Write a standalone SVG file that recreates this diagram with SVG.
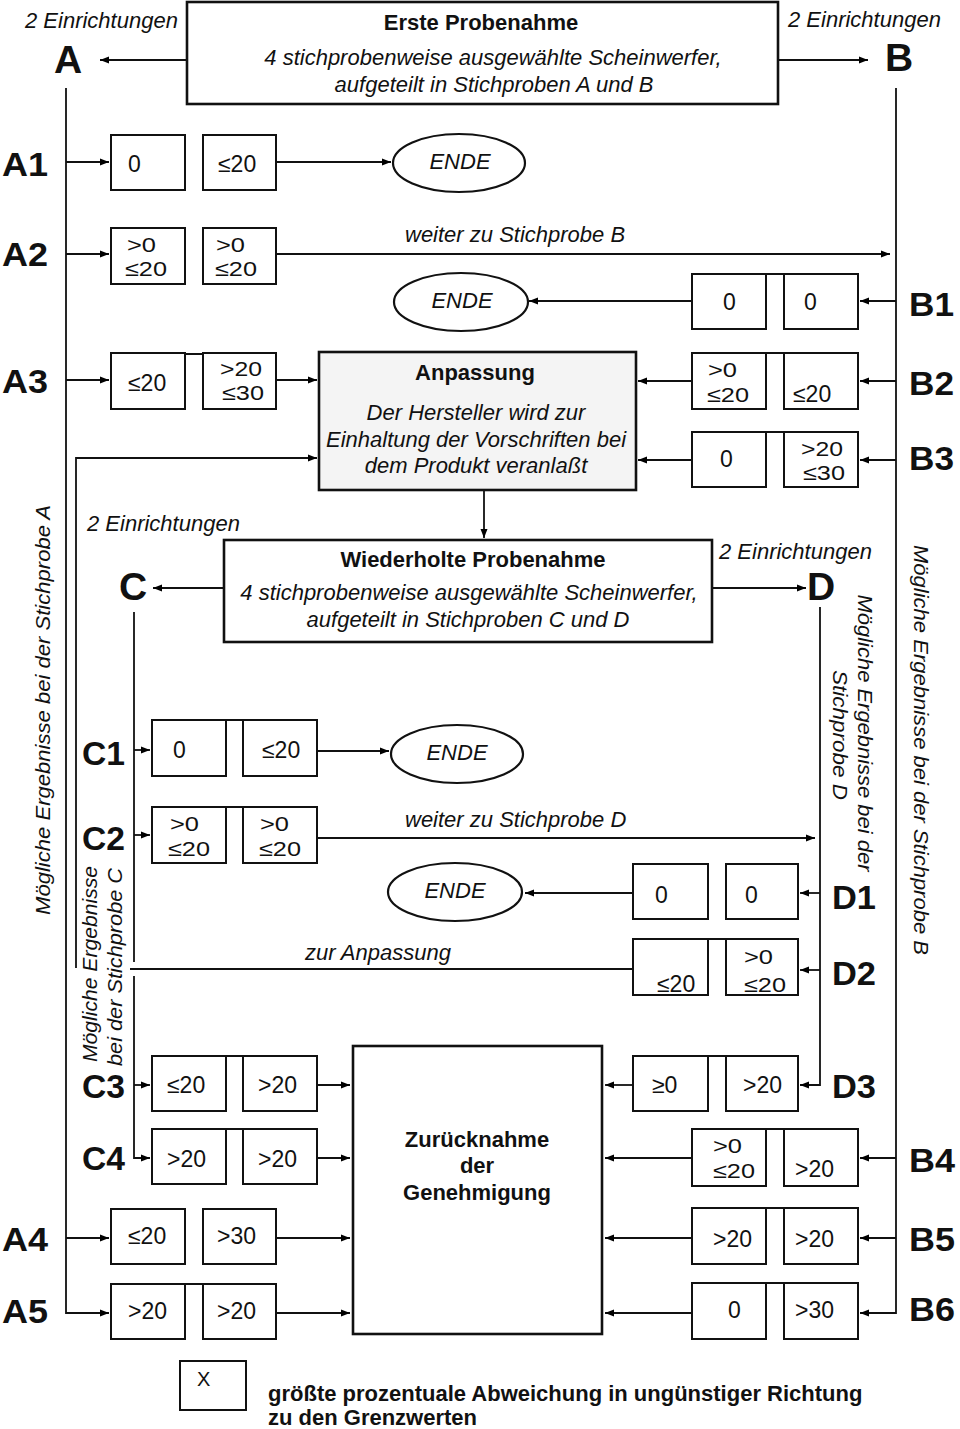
<svg xmlns="http://www.w3.org/2000/svg" width="960" height="1429" viewBox="0 0 960 1429">
<defs>
<marker id="ah" markerUnits="userSpaceOnUse" markerWidth="10" markerHeight="8" refX="9" refY="4" orient="auto">
<path d="M0,0.5 L9,4 L0,7.5 z" fill="#000"/>
</marker>
<style>
text{font-family:"Liberation Sans",Arial,sans-serif;fill:#111}
.box{fill:#fff;stroke:#111;stroke-width:2}
.big{fill:#fff;stroke:#111;stroke-width:2.6}
.v{font-size:23px}
.v2{font-size:21px}
.it{font-style:italic;font-size:22px}
.t{font-weight:bold;font-size:22px}
.lab{font-weight:bold;font-size:33px}
.hd{font-weight:bold;font-size:39px}
.rot{font-style:italic;font-size:20px}
.c{text-anchor:middle}
.ln{fill:none;stroke:#111;stroke-width:1.8}
.ar{fill:none;stroke:#111;stroke-width:1.8;marker-end:url(#ah)}
.j{stroke:#111;stroke-width:2}
.ell{fill:#fff;stroke:#111;stroke-width:2.2}
</style>
</defs>
<rect width="960" height="1429" fill="#fff"/>

<g id="connectors">
<path class="ar" d="M187 60 H100"/>
<path class="ar" d="M778 60 H868"/>
<path class="ar" d="M66 88 V1313 H109"/>
<path class="ar" d="M66 162 H109"/>
<path class="ar" d="M66 254 H109"/>
<path class="ar" d="M66 380 H109"/>
<path class="ar" d="M66 1238 H109"/>
<path class="ar" d="M896 88 V1313 H860"/>
<path class="ar" d="M896 301 H860"/>
<path class="ar" d="M896 381 H860"/>
<path class="ar" d="M896 460 H860"/>
<path class="ar" d="M896 1158 H860"/>
<path class="ar" d="M896 1238 H860"/>
<path class="ar" d="M276 162 H391"/>
<path class="ar" d="M276 254 H890"/>
<path class="ar" d="M692 301 H529"/>
<path class="ar" d="M276 380 H317"/>
<path class="ar" d="M692 381 H638"/>
<path class="ar" d="M692 460 H638"/>
<path class="ar" d="M76 968 V458 H317"/>
<path class="ln" d="M633 969 H130"/>
<path class="ar" d="M484 490 V538"/>
<path class="ar" d="M224 588 H153"/>
<path class="ar" d="M712 588 H806"/>
<path class="ln" d="M134 612 V962"/>
<path class="ar" d="M134 976 V1158 H150"/>
<path class="ar" d="M134 750 H150"/>
<path class="ar" d="M134 835 H150"/>
<path class="ar" d="M134 1085 H150"/>
<path class="ar" d="M820 607 V1085 H800"/>
<path class="ar" d="M820 893 H800"/>
<path class="ar" d="M820 970 H800"/>
<path class="ar" d="M317 751 H389"/>
<path class="ar" d="M317 838 H815"/>
<path class="ar" d="M633 893 H525"/>
<path class="ar" d="M317 1085 H350"/>
<path class="ar" d="M317 1158 H350"/>
<path class="ar" d="M276 1238 H350"/>
<path class="ar" d="M276 1313 H350"/>
<path class="ar" d="M633 1085 H605"/>
<path class="ar" d="M692 1158 H605"/>
<path class="ar" d="M692 1238 H605"/>
<path class="ar" d="M692 1313 H605"/>
</g>

<g id="erste-probenahme">
<rect class="big" x="187" y="2" width="591" height="102"/>
<text class="t c" x="481" y="30">Erste Probenahme</text>
<text class="it c" x="493" y="65">4 stichprobenweise ausgewählte Scheinwerfer,</text>
<text class="it c" x="494" y="92">aufgeteilt in Stichproben A und B</text>
</g>
<g id="label-A">
<text class="it" x="25" y="28">2 Einrichtungen</text>
<text class="hd" x="54" y="73">A</text>
</g>
<g id="label-B">
<text class="it" x="788" y="27">2 Einrichtungen</text>
<text class="hd" x="885" y="71">B</text>
</g>

<g id="A1">
<text class="lab" x="2" y="176" textLength="46" lengthAdjust="spacingAndGlyphs">A1</text>
<rect class="box" x="111" y="135" width="74" height="55"/>
<rect class="box" x="203" y="135" width="73" height="55"/>
<text class="v" x="128" y="172">0</text>
<text class="v" x="218" y="172">≤20</text>
</g>
<g id="ende-1">
<ellipse class="ell" cx="459" cy="163" rx="66" ry="29"/>
<text class="it c" x="460" y="169">ENDE</text>
</g>
<g id="A2">
<text class="lab" x="2" y="266" textLength="46" lengthAdjust="spacingAndGlyphs">A2</text>
<rect class="box" x="111" y="228" width="74" height="56"/>
<rect class="box" x="203" y="228" width="73" height="56"/>
<text class="v2" x="127" y="252" textLength="29" lengthAdjust="spacingAndGlyphs">&gt;0</text>
<text class="v2" x="125" y="276" textLength="42" lengthAdjust="spacingAndGlyphs">≤20</text>
<text class="v2" x="216" y="252" textLength="29" lengthAdjust="spacingAndGlyphs">&gt;0</text>
<text class="v2" x="215" y="276" textLength="42" lengthAdjust="spacingAndGlyphs">≤20</text>
<text class="it" x="405" y="242">weiter zu Stichprobe B</text>
</g>
<g id="B1">
<text class="lab" x="909" y="316" textLength="45" lengthAdjust="spacingAndGlyphs">B1</text>
<rect class="box" x="692" y="274" width="74" height="55"/>
<rect class="box" x="784" y="274" width="74" height="55"/>
<line class="j" x1="766" y1="274" x2="784" y2="274"/>
<text class="v" x="723" y="310">0</text>
<text class="v" x="804" y="310">0</text>
</g>
<g id="ende-2">
<ellipse class="ell" cx="461" cy="302" rx="67" ry="29"/>
<text class="it c" x="462" y="308">ENDE</text>
</g>
<g id="A3">
<text class="lab" x="2" y="393" textLength="46" lengthAdjust="spacingAndGlyphs">A3</text>
<rect class="box" x="111" y="353" width="74" height="56"/>
<rect class="box" x="203" y="353" width="73" height="56"/>
<line class="j" x1="185" y1="354" x2="203" y2="354"/>
<text class="v" x="128" y="391">≤20</text>
<text class="v2" x="220" y="376" textLength="42" lengthAdjust="spacingAndGlyphs">&gt;20</text>
<text class="v2" x="222" y="400" textLength="42" lengthAdjust="spacingAndGlyphs">≤30</text>
</g>
<g id="anpassung">
<rect class="big" x="319" y="352" width="317" height="138" style="fill:#f4f4f4"/>
<text class="t c" x="475" y="380">Anpassung</text>
<text class="it c" x="476" y="420">Der Hersteller wird zur</text>
<text class="it c" x="476" y="447">Einhaltung der Vorschriften bei</text>
<text class="it c" x="476" y="473">dem Produkt veranlaßt</text>
</g>
<g id="B2">
<text class="lab" x="909" y="395" textLength="45" lengthAdjust="spacingAndGlyphs">B2</text>
<rect class="box" x="692" y="353" width="74" height="56"/>
<rect class="box" x="784" y="353" width="74" height="56"/>
<line class="j" x1="766" y1="353" x2="784" y2="353"/>
<text class="v2" x="708" y="377" textLength="29" lengthAdjust="spacingAndGlyphs">&gt;0</text>
<text class="v2" x="707" y="402" textLength="42" lengthAdjust="spacingAndGlyphs">≤20</text>
<text class="v" x="793" y="402">≤20</text>
</g>
<g id="B3">
<text class="lab" x="909" y="470" textLength="45" lengthAdjust="spacingAndGlyphs">B3</text>
<rect class="box" x="692" y="432" width="74" height="55"/>
<rect class="box" x="784" y="432" width="74" height="55"/>
<line class="j" x1="766" y1="432" x2="784" y2="432"/>
<text class="v" x="720" y="467">0</text>
<text class="v2" x="801" y="456" textLength="42" lengthAdjust="spacingAndGlyphs">&gt;20</text>
<text class="v2" x="803" y="480" textLength="42" lengthAdjust="spacingAndGlyphs">≤30</text>
</g>

<g id="wiederholte-probenahme">
<rect class="big" x="224" y="540" width="488" height="102"/>
<text class="t c" x="473" y="567">Wiederholte Probenahme</text>
<text class="it c" x="469" y="600">4 stichprobenweise ausgewählte Scheinwerfer,</text>
<text class="it c" x="468" y="627">aufgeteilt in Stichproben C und D</text>
</g>
<g id="label-C">
<text class="it" x="87" y="531">2 Einrichtungen</text>
<text class="hd" x="119" y="600">C</text>
</g>
<g id="label-D">
<text class="it" x="719" y="559">2 Einrichtungen</text>
<text class="hd" x="807" y="600">D</text>
</g>

<g id="C1">
<text class="lab" x="82" y="765" textLength="43" lengthAdjust="spacingAndGlyphs">C1</text>
<rect class="box" x="152" y="720" width="74" height="56"/>
<rect class="box" x="243" y="720" width="74" height="56"/>
<line class="j" x1="226" y1="720" x2="243" y2="720"/>
<text class="v" x="173" y="758">0</text>
<text class="v" x="262" y="758">≤20</text>
</g>
<g id="ende-3">
<ellipse class="ell" cx="457" cy="754" rx="66" ry="29"/>
<text class="it c" x="457" y="760">ENDE</text>
</g>
<g id="C2">
<text class="lab" x="82" y="850" textLength="43" lengthAdjust="spacingAndGlyphs">C2</text>
<rect class="box" x="152" y="807" width="74" height="56"/>
<rect class="box" x="243" y="807" width="74" height="56"/>
<line class="j" x1="226" y1="807" x2="243" y2="807"/>
<text class="v2" x="170" y="831" textLength="29" lengthAdjust="spacingAndGlyphs">&gt;0</text>
<text class="v2" x="168" y="856" textLength="42" lengthAdjust="spacingAndGlyphs">≤20</text>
<text class="v2" x="260" y="831" textLength="29" lengthAdjust="spacingAndGlyphs">&gt;0</text>
<text class="v2" x="259" y="856" textLength="42" lengthAdjust="spacingAndGlyphs">≤20</text>
<text class="it" x="405" y="827">weiter zu Stichprobe D</text>
</g>
<g id="D1">
<text class="lab" x="832" y="909" textLength="44" lengthAdjust="spacingAndGlyphs">D1</text>
<rect class="box" x="633" y="864" width="75" height="55"/>
<rect class="box" x="726" y="864" width="72" height="55"/>
<text class="v" x="655" y="903">0</text>
<text class="v" x="745" y="903">0</text>
</g>
<g id="ende-4">
<ellipse class="ell" cx="455" cy="892" rx="67" ry="29"/>
<text class="it c" x="455" y="898">ENDE</text>
</g>
<g id="D2">
<text class="lab" x="832" y="985" textLength="44" lengthAdjust="spacingAndGlyphs">D2</text>
<rect class="box" x="633" y="939" width="75" height="56"/>
<rect class="box" x="726" y="939" width="72" height="56"/>
<line class="j" x1="708" y1="939" x2="726" y2="939"/>
<text class="v" x="657" y="992">≤20</text>
<text class="v2" x="744" y="964" textLength="29" lengthAdjust="spacingAndGlyphs">&gt;0</text>
<text class="v2" x="744" y="992" textLength="42" lengthAdjust="spacingAndGlyphs">≤20</text>
<text class="it" x="305" y="960">zur Anpassung</text>
</g>

<g id="rotated-labels">
<text class="rot c" transform="translate(50,710) rotate(-90)" textLength="410" lengthAdjust="spacingAndGlyphs">Mögliche Ergebnisse bei der Stichprobe A</text>
<text class="rot c" transform="translate(914,750) rotate(90)" textLength="410" lengthAdjust="spacingAndGlyphs">Mögliche Ergebnisse bei der Stichprobe B</text>
<text class="rot c" transform="translate(858,733) rotate(90)" textLength="277" lengthAdjust="spacingAndGlyphs">Mögliche Ergebnisse bei der</text>
<text class="rot c" transform="translate(833,735) rotate(90)" textLength="130" lengthAdjust="spacingAndGlyphs">Stichprobe D</text>
<text class="rot c" transform="translate(97,964) rotate(-90)" textLength="196" lengthAdjust="spacingAndGlyphs">Mögliche Ergebnisse</text>
<text class="rot c" transform="translate(122,967) rotate(-90)" textLength="198" lengthAdjust="spacingAndGlyphs">bei der Stichprobe C</text>
</g>

<g id="C3">
<text class="lab" x="82" y="1098" textLength="43" lengthAdjust="spacingAndGlyphs">C3</text>
<rect class="box" x="152" y="1056" width="74" height="55"/>
<rect class="box" x="243" y="1056" width="74" height="55"/>
<line class="j" x1="226" y1="1056" x2="243" y2="1056"/>
<text class="v" x="167" y="1093">≤20</text>
<text class="v" x="258" y="1093">&gt;20</text>
</g>
<g id="C4">
<text class="lab" x="82" y="1170" textLength="43" lengthAdjust="spacingAndGlyphs">C4</text>
<rect class="box" x="152" y="1129" width="74" height="55"/>
<rect class="box" x="243" y="1129" width="74" height="55"/>
<line class="j" x1="226" y1="1129" x2="243" y2="1129"/>
<text class="v" x="167" y="1167">&gt;20</text>
<text class="v" x="258" y="1167">&gt;20</text>
</g>
<g id="D3">
<text class="lab" x="832" y="1098" textLength="44" lengthAdjust="spacingAndGlyphs">D3</text>
<rect class="box" x="633" y="1056" width="75" height="55"/>
<rect class="box" x="726" y="1056" width="72" height="55"/>
<line class="j" x1="708" y1="1056" x2="726" y2="1056"/>
<text class="v" x="652" y="1093">≥0</text>
<text class="v" x="743" y="1093">&gt;20</text>
</g>
<g id="zuruecknahme">
<rect class="big" x="353" y="1046" width="249" height="288"/>
<text class="t c" x="477" y="1147">Zurücknahme</text>
<text class="t c" x="477" y="1173">der</text>
<text class="t c" x="477" y="1200">Genehmigung</text>
</g>
<g id="B4">
<text class="lab" x="909" y="1172" textLength="46" lengthAdjust="spacingAndGlyphs">B4</text>
<rect class="box" x="692" y="1129" width="74" height="57"/>
<rect class="box" x="784" y="1129" width="74" height="57"/>
<line class="j" x1="766" y1="1129" x2="784" y2="1129"/>
<text class="v2" x="713" y="1153" textLength="29" lengthAdjust="spacingAndGlyphs">&gt;0</text>
<text class="v2" x="713" y="1178" textLength="42" lengthAdjust="spacingAndGlyphs">≤20</text>
<text class="v" x="795" y="1177">&gt;20</text>
</g>
<g id="A4">
<text class="lab" x="2" y="1251" textLength="46" lengthAdjust="spacingAndGlyphs">A4</text>
<rect class="box" x="111" y="1209" width="74" height="55"/>
<rect class="box" x="203" y="1209" width="73" height="55"/>
<text class="v" x="128" y="1244">≤20</text>
<text class="v" x="217" y="1244">&gt;30</text>
</g>
<g id="B5">
<text class="lab" x="909" y="1251" textLength="46" lengthAdjust="spacingAndGlyphs">B5</text>
<rect class="box" x="692" y="1208" width="74" height="56"/>
<rect class="box" x="784" y="1208" width="74" height="56"/>
<line class="j" x1="766" y1="1208" x2="784" y2="1208"/>
<text class="v" x="713" y="1247">&gt;20</text>
<text class="v" x="795" y="1247">&gt;20</text>
</g>
<g id="A5">
<text class="lab" x="2" y="1323" textLength="46" lengthAdjust="spacingAndGlyphs">A5</text>
<rect class="box" x="111" y="1284" width="74" height="55"/>
<rect class="box" x="203" y="1284" width="73" height="55"/>
<line class="j" x1="185" y1="1284" x2="203" y2="1284"/>
<text class="v" x="128" y="1319">&gt;20</text>
<text class="v" x="217" y="1319">&gt;20</text>
</g>
<g id="B6">
<text class="lab" x="909" y="1321" textLength="46" lengthAdjust="spacingAndGlyphs">B6</text>
<rect class="box" x="692" y="1283" width="74" height="56"/>
<rect class="box" x="784" y="1283" width="74" height="56"/>
<line class="j" x1="766" y1="1283" x2="784" y2="1283"/>
<text class="v" x="728" y="1318">0</text>
<text class="v" x="795" y="1318">&gt;30</text>
</g>

<g id="legend">
<rect class="box" x="180" y="1361" width="66" height="49"/>
<text x="197" y="1386" style="font-size:20px">X</text>
<text class="t" x="268" y="1401">größte prozentuale Abweichung in ungünstiger Richtung</text>
<text class="t" x="268" y="1425">zu den Grenzwerten</text>
</g>
</svg>
